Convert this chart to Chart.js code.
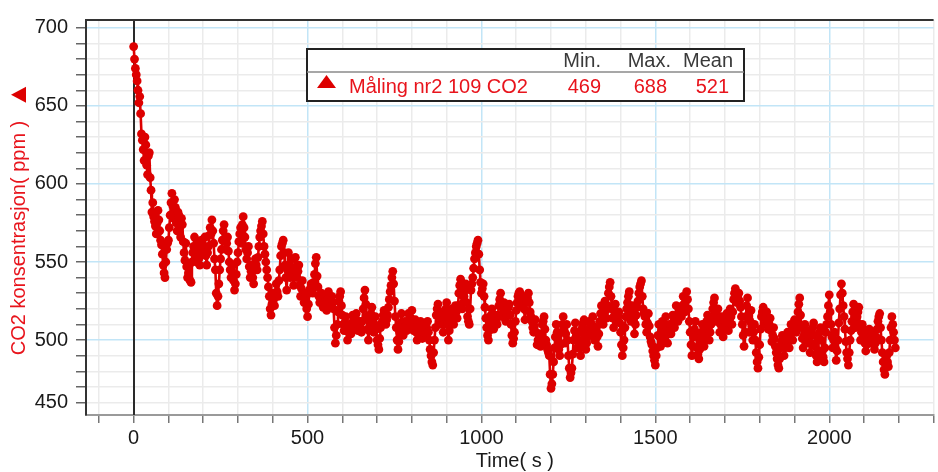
<!DOCTYPE html>
<html>
<head>
<meta charset="utf-8">
<script src="https://cdn.jsdelivr.net/npm/chart.js@4.4.1/dist/chart.umd.min.js"></script>
<style>
  html, body { margin: 0; padding: 0; background: #ffffff; }
  #wrap { width: 938px; height: 472px; }
</style>
</head>
<body>
<div id="wrap"><canvas id="chart" width="938" height="472"></canvas></div>
<script>
// CO2 logger run "Måling nr2 109": one reading every 2.5 s, ppm (one row = 50 s)
const sampleIntervalS = 2.5;
const co2ppm = [
  688,680, 674,670, 666,660, 652,656, 645,632, 628,622, 615,630, 625,612, 606,618, 620,604,
  596,582, 588,579, 576,573, 568,575, 583,577, 570,564, 561,555, 548,543, 540,550, 558,562,
  564,572, 580,588, 594,586, 578,590, 585,575, 570,582, 580,572, 566,578, 574,563, 556,551,
  562,547, 540,543, 548,538, 537,550, 556,560, 566,555, 550,563, 560,552, 548,556, 564,560,
  556,560, 566,554, 548,556, 560,567, 572,568, 577,570, 562,552, 545,530, 522,528, 536,545,
  552,558, 564,570, 574,565, 558,562, 566,557, 550,545, 540,544, 548,538, 532,536, 542,550,
  556,563, 568,572, 562,574, 579,572, 566,558, 552,556, 560,547, 540,544, 548,540, 536,545,
  552,548, 545,553, 560,566, 570,573, 576,568, 560,555, 550,545, 540,534, 528,520, 516,523,
  530,526, 522,530, 536,531, 528,538, 545,554, 560,562, 564,556, 548,540, 532,545, 556,547,
  540,546, 552,543, 535,545, 553,547, 540,544, 548,535, 528,533, 538,530, 524,527, 530,520,
  515,523, 530,533, 536,532, 530,537, 542,549, 553,541, 534,528, 524,527, 530,525, 521,524,
  528,523, 519,526, 531,527, 522,525, 528,524, 520,508, 498,503, 510,518, 525,528, 531,522,
  516,510, 506,511, 515,506, 500,505, 510,507, 504,511, 516,512, 508,514, 517,510, 506,509,
  512,508, 505,512, 520,527, 532,523, 515,507, 500,506, 512,517, 521,512, 505,510, 515,507,
  500,497, 494,501, 508,510, 512,516, 519,514, 510,513, 516,521, 526,531, 535,540, 544,536,
  525,515, 508,500, 494,499, 505,511, 517,509, 503,508, 512,509, 506,512, 517,513, 509,514,
  519,512, 506,509, 513,505, 500,504, 508,510, 512,506, 501,505, 510,507, 504,508, 512,505,
  500,494, 490,486, 484,492, 500,508, 516,520, 523,516, 510,514, 518,511, 505,510, 515,520,
  524,510, 500,506, 512,516, 520,514, 510,516, 522,518, 514,522, 530,535, 539,529, 520,524,
  528,532, 536,524, 515,512, 510,520, 532,536, 540,546, 552,556, 560,562, 564,555, 545,537,
  530,533, 536,528, 521,514, 508,503, 500,506, 512,516, 520,512, 507,511, 516,513, 510,516,
  522,526, 530,522, 515,520, 524,518, 512,516, 520,521, 523,516, 510,503, 498,501, 505,512,
  519,524, 528,530, 531,526, 522,525, 528,520, 513,519, 525,527, 530,524, 518,515, 512,508,
  505,509, 513,505, 497,500, 504,500, 496,503, 510,512, 515,507, 500,497, 494,492, 490,478,
  469,472, 478,486, 495,502, 510,505, 500,494, 490,497, 505,510, 515,506, 498,504, 510,500,
  490,482, 476,479, 482,491, 500,506, 511,503, 495,500, 505,497, 490,499, 508,511, 513,503,
  494,498, 502,507, 512,508, 504,510, 515,507, 500,504, 508,502, 496,504, 512,517, 522,516,
  510,518, 525,519, 514,522, 530,534, 537,528, 520,514, 508,516, 523,517, 512,515, 518,511,
  505,497, 490,495, 500,508, 515,520, 524,528, 531,520, 512,517, 522,513, 504,510, 516,521,
  525,530, 534,536, 538,528, 520,517, 515,510, 505,511, 517,509, 502,499, 497,493, 490,487,
  484,490, 495,503, 510,502, 496,505, 512,506, 500,508, 515,506, 498,504, 510,507, 504,510,
  516,512, 508,515, 522,516, 512,517, 520,518, 515,522, 528,523, 518,525, 531,526, 520,512,
  505,497, 490,496, 502,507, 512,503, 495,491, 488,494, 500,505, 510,503, 496,502, 508,512,
  516,507, 500,505, 510,515, 520,524, 527,518, 512,516, 520,512, 505,510, 515,508, 502,507,
  512,515, 517,511, 506,513, 520,515, 510,518, 526,530, 533,528, 524,527, 530,525, 521,515,
  510,503, 496,505, 515,522, 527,516, 505,512, 519,509, 500,505, 510,500, 492,486, 482,489,
  497,507, 515,518, 521,515, 510,514, 518,512, 507,510, 514,506, 499,503, 508,501, 496,492,
  488,484, 482,488, 495,499, 503,496, 490,495, 500,502, 505,499, 495,503, 510,505, 500,507,
  513,509, 505,512, 518,523, 527,516, 508,501, 495,503, 510,505, 500,503, 506,498, 492,498,
  504,508, 511,503, 496,490, 486,493, 500,505, 508,500, 493,489, 486,495, 505,510, 515,522,
  529,518, 510,502, 495,500, 505,495, 487,493, 500,511, 520,529, 536,530, 522,515, 507,499,
  492,488, 484,492, 500,506, 512,518, 523,515, 508,511, 515,518, 521,510, 500,505, 510,507,
  504,498, 493,497, 500,504, 507,502, 498,501, 505,499, 494,498, 502,507, 512,515, 517,508,
  500,492, 486,481, 478,485, 490,486, 483,492, 500,508, 515,510, 505,500, 495
];

// axis labels
const xTickValues = [0, 500, 1000, 1500, 2000];
const xTickLabels = ['0', '500', '1000', '1500', '2000'];
const yTickValues = [460, 500, 550, 600, 650, 700];
const yTickLabels = ['450', '500', '550', '600', '650', '700'];
const xTitle = 'Time( s )';
const yTitle = 'CO2 konsentrasjon( ppm )';

// statistics table shown in the legend box
const seriesName = 'Måling nr2 109 CO2';
const statHeaders = ['Min.', 'Max.', 'Mean'];
const statValues = [469, 688, 521];

const RED = '#dd0000';
const FONT = '"Liberation Sans", Arial, Helvetica, sans-serif';

const points = co2ppm.map((v, i) => ({ x: i * sampleIntervalS, y: v }));

function stepTicks(from, to, step) {
  const out = [];
  for (let v = from; v <= to + 1e-9; v += step) out.push({ value: v });
  return out;
}

// solid line marking t = 0, drawn over the grid and under the data
const zeroLine = {
  id: 'zeroLine',
  beforeDatasetsDraw(chart) {
    const { ctx, chartArea: a, scales: { x } } = chart;
    const px = Math.round(x.getPixelForValue(0));
    ctx.save();
    ctx.strokeStyle = '#2a2a2a';
    ctx.lineWidth = 2;
    ctx.beginPath();
    ctx.moveTo(px, a.top);
    ctx.lineTo(px, a.bottom);
    ctx.stroke();
    ctx.restore();
  }
};

// frame top, axis titles (the y title carries the series marker) and the statistics box
const decorations = {
  id: 'decorations',
  afterDraw(chart) {
    const { ctx, chartArea: a } = chart;
    ctx.save();

    // top frame line
    ctx.strokeStyle = '#333';
    ctx.lineWidth = 2;
    ctx.beginPath();
    ctx.moveTo(a.left, a.top);
    ctx.lineTo(a.right, a.top);
    ctx.stroke();

    // x axis title
    ctx.font = '20px ' + FONT;
    ctx.fillStyle = '#1a1a1a';
    ctx.textAlign = 'center';
    ctx.textBaseline = 'middle';
    ctx.fillText(xTitle, (a.left + a.right) / 2 + 5, 461);

    // y axis title, rotated
    ctx.save();
    ctx.translate(19, 238);
    ctx.rotate(-Math.PI / 2);
    ctx.fillStyle = '#e8141c';
    ctx.fillText(yTitle, 0, 0);
    const tw = ctx.measureText(yTitle).width;
    const mx = tw / 2 + 26;
    ctx.fillStyle = RED;
    ctx.beginPath();
    ctx.moveTo(mx - 8, 7);
    ctx.lineTo(mx + 8, 7);
    ctx.lineTo(mx, -8);
    ctx.closePath();
    ctx.fill();
    ctx.restore();

    // statistics box
    const bx = 307, by = 49, bw = 437, bh = 52, divY = 72;
    ctx.fillStyle = '#ffffff';
    ctx.fillRect(bx, by, bw, bh);
    ctx.strokeStyle = '#222';
    ctx.lineWidth = 2;
    ctx.strokeRect(bx, by, bw, bh);
    ctx.strokeStyle = '#8a8a8a';
    ctx.lineWidth = 1.5;
    ctx.beginPath();
    ctx.moveTo(bx, divY);
    ctx.lineTo(bx + bw, divY);
    ctx.stroke();

    const colRight = [601, 671, 733];
    ctx.textAlign = 'right';
    ctx.fillStyle = '#3a3a3a';
    statHeaders.forEach((h, i) => ctx.fillText(h, colRight[i], 61));
    ctx.fillStyle = '#e8141c';
    statValues.forEach((v, i) => ctx.fillText(String(v), colRight[i] - (i ? 4 : 0), 87));
    ctx.textAlign = 'left';
    ctx.fillText(seriesName, 349, 87);

    ctx.fillStyle = RED;
    ctx.beginPath();
    ctx.moveTo(317, 88);
    ctx.lineTo(336, 88);
    ctx.lineTo(326.5, 75);
    ctx.closePath();
    ctx.fill();

    ctx.restore();
  }
};

new Chart(document.getElementById('chart'), {
  type: 'line',
  data: {
    datasets: [{
      label: seriesName,
      data: points,
      borderColor: RED,
      backgroundColor: RED,
      borderWidth: 2.6,
      borderJoinStyle: 'round',
      borderCapStyle: 'round',
      pointRadius: 4.4,
      pointBorderWidth: 0,
      pointBackgroundColor: RED,
      tension: 0,
      fill: false
    }]
  },
  options: {
    responsive: false,
    animation: false,
    devicePixelRatio: 1,
    layout: { padding: { top: 11, right: 0, bottom: 0, left: 0 } },
    plugins: { legend: { display: false }, tooltip: { enabled: false } },
    scales: {
      x: {
        type: 'linear',
        min: -137,
        max: 2300,
        afterBuildTicks: s => { s.ticks = stepTicks(-100, 2300, 100); },
        afterFit: s => { s.height = 57; },
        ticks: {
          autoSkip: false,
          maxRotation: 0,
          padding: 3,
          color: '#1a1a1a',
          font: { family: FONT, size: 20 },
          callback: v => { const i = xTickValues.indexOf(v); return i >= 0 ? xTickLabels[i] : ''; }
        },
        grid: {
          color: c => (c.tick.value % 500 === 0 ? '#c2e5f7' : '#ebebeb'),
          lineWidth: 1.5,
          tickColor: '#777',
          tickLength: 8,
          tickWidth: 1.5
        },
        border: { color: '#9a9a9a', width: 2 }
      },
      y: {
        min: 452,
        max: 705,
        afterBuildTicks: s => { s.ticks = stepTicks(460, 700, 10); },
        afterFit: s => { s.width = 86; },
        ticks: {
          autoSkip: false,
          padding: 8,
          color: '#1a1a1a',
          font: { family: FONT, size: 20 },
          callback: v => { const i = yTickValues.indexOf(v); return i >= 0 ? yTickLabels[i] : ''; }
        },
        grid: {
          color: c => (c.tick.value % 50 === 0 ? '#c2e5f7' : '#ebebeb'),
          lineWidth: 1.5,
          tickColor: '#666',
          tickLength: 10,
          tickWidth: 1.5
        },
        border: { color: '#333', width: 2 }
      }
    }
  },
  plugins: [zeroLine, decorations]
});
</script>
</body>
</html>
